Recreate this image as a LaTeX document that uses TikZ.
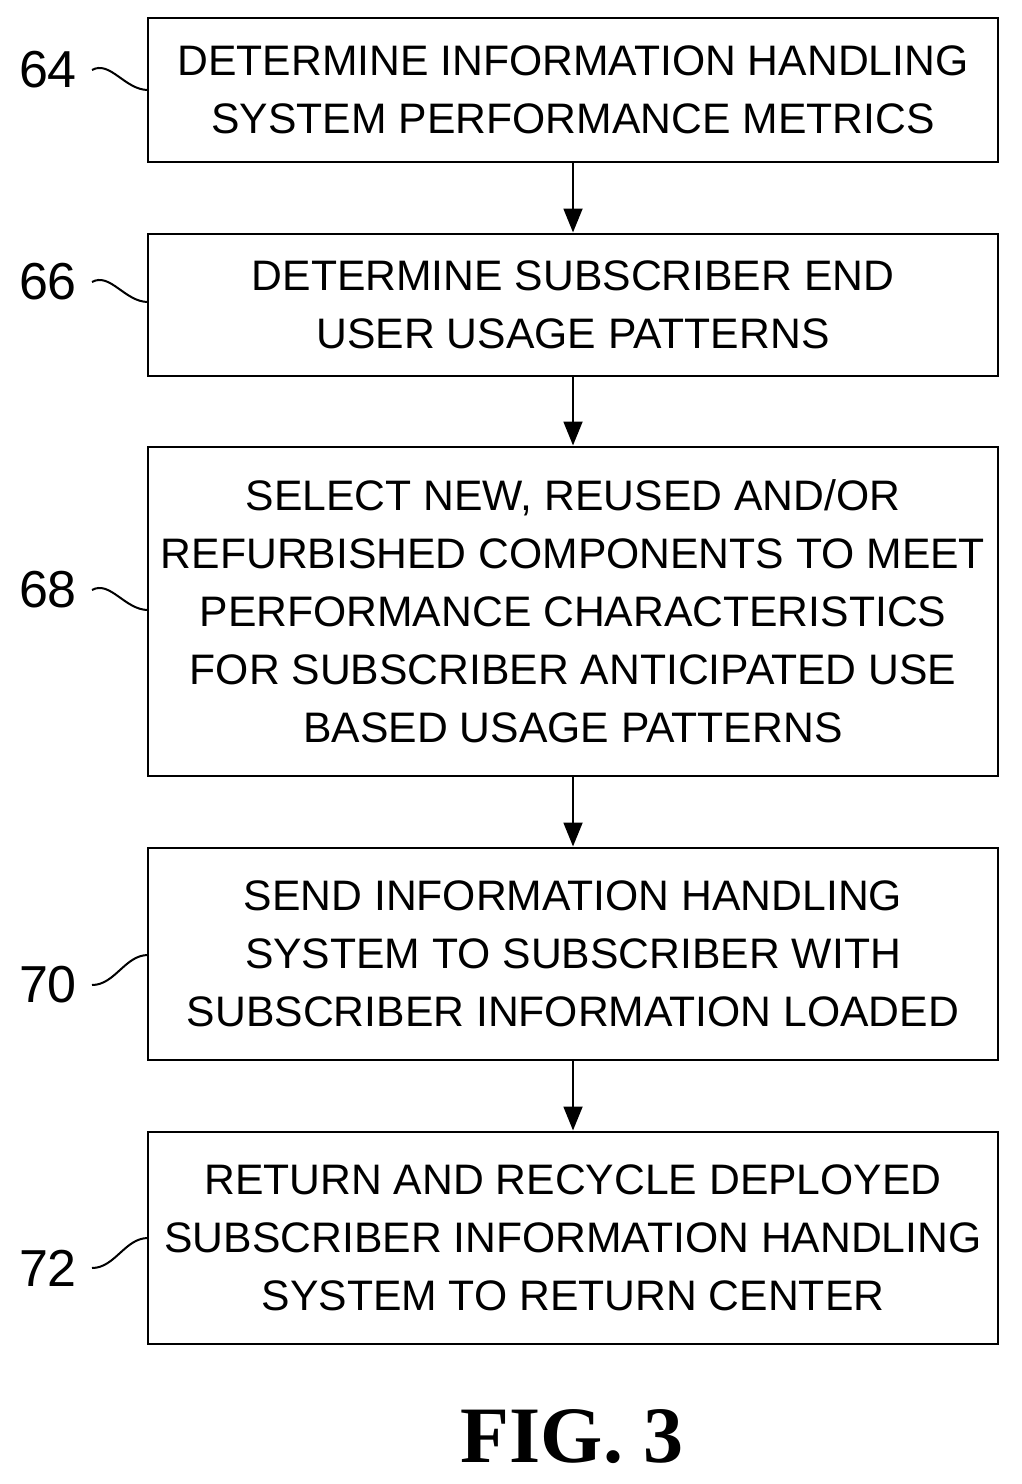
\documentclass[tikz,border=0pt]{standalone}
\usepackage{fontspec}
\setmainfont{Liberation Sans}
\newfontfamily\figfont{Liberation Serif}
\usetikzlibrary{arrows.meta}
\tikzset{every picture/.style={line width=2.2pt}}
\tikzset{stepbox/.style={draw,minimum width=637.5pt,inner sep=0pt,align=center,font=\fontsize{32}{43.5}\selectfont},
  reflabel/.style={inner sep=0pt,font=\fontsize{39}{40}\selectfont},
  flow/.style={-{Triangle[length=18pt,width=14pt]}}}

\begin{document}
\begin{tikzpicture}[x=0.75pt,y=0.75pt,yscale=-1,xscale=1]
\useasboundingbox (0,0) rectangle (1021,1484);

% Steps
\node [stepbox,minimum height=108pt] (s64) at (573,90) {DETERMINE INFORMATION HANDLING\\SYSTEM PERFORMANCE METRICS};
\node [stepbox,minimum height=106.5pt] (s66) at (573,305) {DETERMINE SUBSCRIBER END\\USER USAGE PATTERNS};
\node [stepbox,minimum height=246.75pt] (s68) at (573,611.5) {SELECT NEW, REUSED AND/OR\\REFURBISHED COMPONENTS TO MEET\\PERFORMANCE CHARACTERISTICS\\FOR SUBSCRIBER ANTICIPATED USE\\BASED USAGE PATTERNS};
\node [stepbox,minimum height=159pt] (s70) at (573,954) {SEND INFORMATION HANDLING\\SYSTEM TO SUBSCRIBER WITH\\SUBSCRIBER INFORMATION LOADED};
\node [stepbox,minimum height=159pt] (s72) at (573,1238) {RETURN AND RECYCLE DEPLOYED\\SUBSCRIBER INFORMATION HANDLING\\SYSTEM TO RETURN CENTER};

% Arrows
\draw [flow] (s64) -- (s66);
\draw [flow] (s66) -- (s68);
\draw [flow] (s68) -- (s70);
\draw [flow] (s70) -- (s72);

% Reference numerals
\node [reflabel] (n64) at (48,70) {64};
\node [reflabel] (n66) at (48,282) {66};
\node [reflabel] (n68) at (48,590) {68};
\node [reflabel] (n70) at (48,985) {70};
\node [reflabel] (n72) at (48,1268) {72};

% Leader lines
\draw [line width=1.5pt] (92,70) .. controls (110,60) and (125,90) .. (148,90);
\draw [line width=1.5pt] (92,282) .. controls (110,272) and (125,302) .. (148,302);
\draw [line width=1.5pt] (92,590) .. controls (110,580) and (125,610) .. (148,610);
\draw [line width=1.5pt] (92,985) .. controls (115,985) and (125,955) .. (148,955);
\draw [line width=1.5pt] (92,1268) .. controls (115,1268) and (125,1238) .. (148,1238);

% Caption
\node [inner sep=0pt,font=\figfont\bfseries\fontsize{60}{62}\selectfont] (fig) at (572,1437) {FIG. 3};
\end{tikzpicture}
\end{document}
